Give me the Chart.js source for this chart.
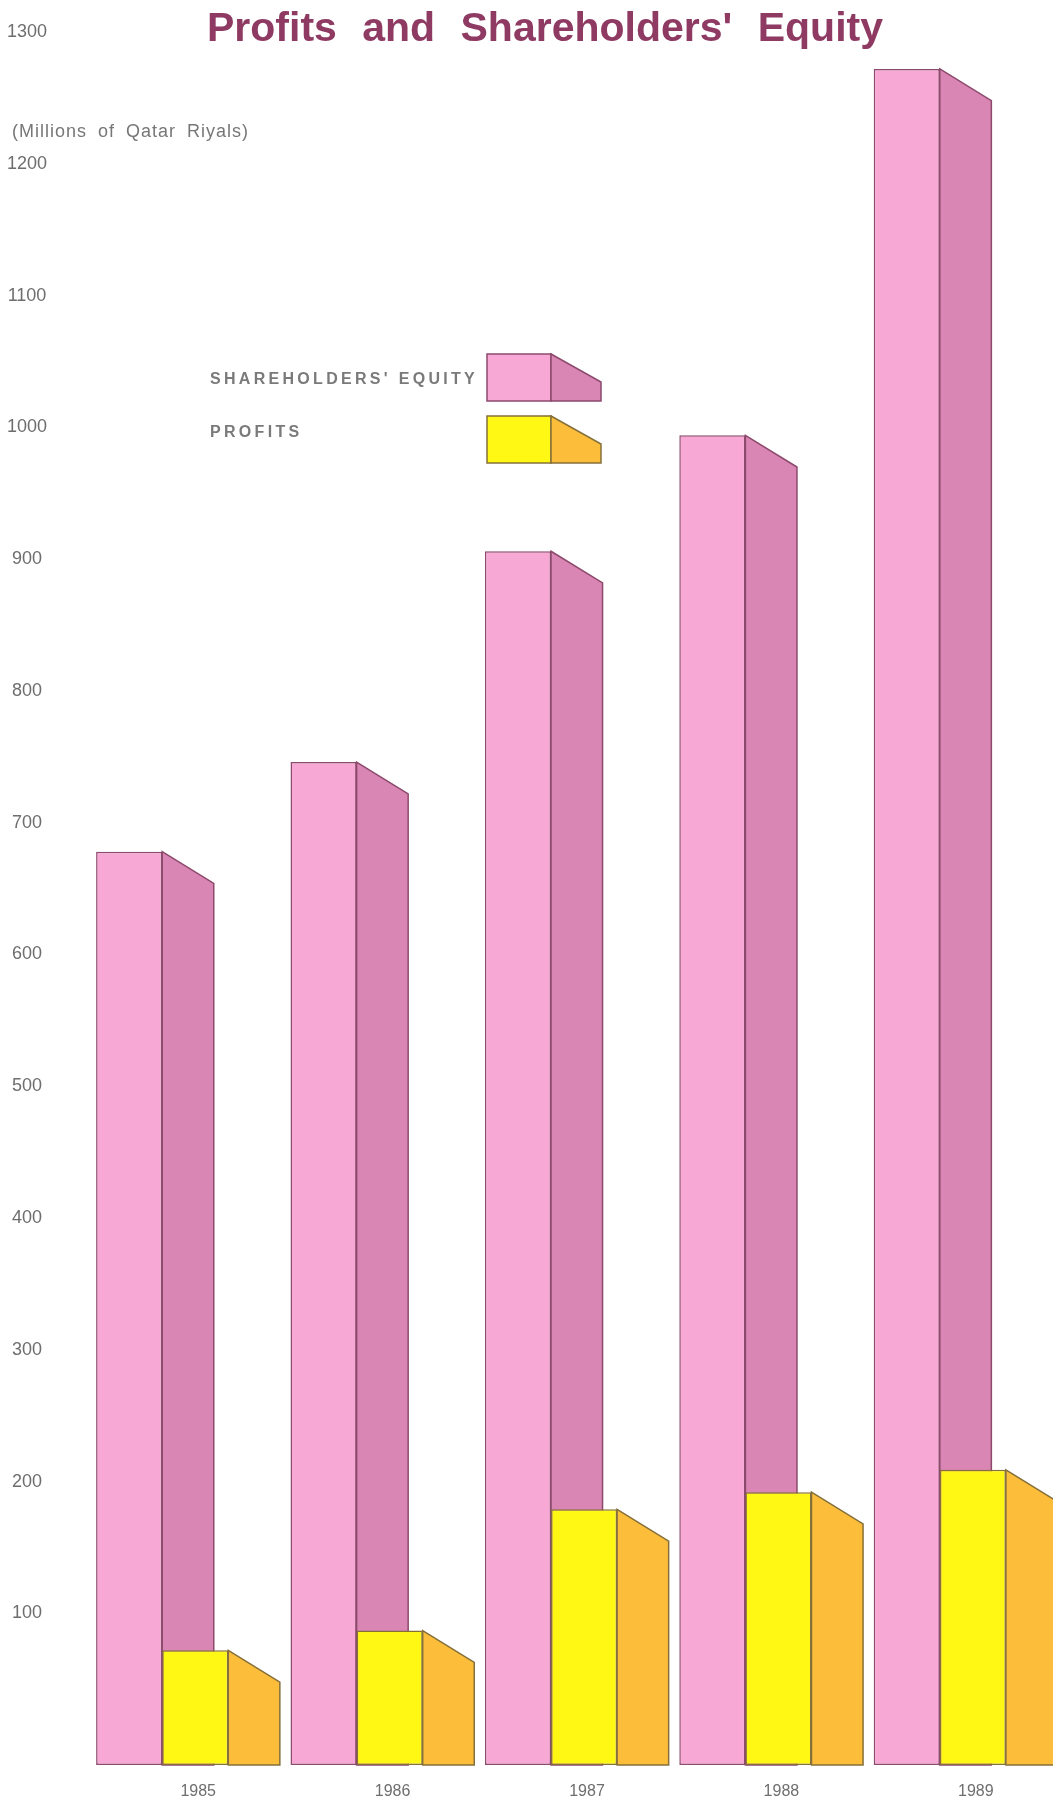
<!DOCTYPE html>
<html>
<head>
<meta charset="UTF-8">
<title>Profits and Shareholders' Equity</title>
<script src="https://cdn.jsdelivr.net/npm/chart.js@4.4.0/dist/chart.umd.min.js"></script>
<style>
  body { margin: 0; background: #fff; }
  #wrap { position: relative; width: 1053px; height: 1803px; }
  #title {
    position: absolute; top: 4px; left: 0; width: 1090px; text-align: center;
    font: bold 41px "Liberation Sans", Arial, sans-serif; color: #8e3a62; word-spacing: 14px;
  }
  #units {
    position: absolute; left: 12px; top: 121px;
    font: 18px "Liberation Sans", Arial, sans-serif; color: #777; word-spacing: 5px; letter-spacing: 1px;
  }
</style>
</head>
<body>
<div id="wrap">
  <canvas id="canvas" width="1053" height="1803"></canvas>
  <div id="title">Profits and Shareholders' Equity</div>
  <div id="units">(Millions of Qatar Riyals)</div>
</div>

<script>
// values (millions of Qatar riyals)
var years = ['1985', '1986', '1987', '1988', '1989'];
var equity = [678, 746, 906, 994, 1272];
var profits = [72, 87, 179, 192, 209];
var seriesNames = ["SHAREHOLDERS' EQUITY", 'PROFITS'];

var Y_MIN = -15;   // bars stand a little below the "0" line in the original
var Y_MAX = 1300;
var Y_STEP = 100;

var tickColor = '#6e6e6e';

function drawSide(ctx, x, top, base, dx, dy, fill, stroke) {
  ctx.save();
  ctx.beginPath();
  ctx.moveTo(x, top);
  ctx.lineTo(x + dx, top + dy);
  ctx.lineTo(x + dx, base);
  ctx.lineTo(x, base);
  ctx.closePath();
  ctx.fillStyle = fill;
  ctx.fill();
  ctx.lineWidth = 1.5;
  ctx.strokeStyle = stroke;
  ctx.stroke();
  ctx.restore();
}

// side faces of the 3D bars (drawn first so the profit fronts cover the equity sides)
// + the legend drawn like the original
var depthPlugin = {
  id: 'depth',
  beforeDatasetsDraw: function(chart) {
    var ctx = chart.ctx;
    chart.data.datasets.forEach(function(ds, i) {
      chart.getDatasetMeta(i).data.forEach(function(bar) {
        var p = bar.getProps(['x', 'y', 'base', 'width'], true);
        drawSide(ctx, p.x + p.width / 2, p.y, p.base, p.width * 0.78, p.width * 0.48, ds.sideColor, ds.borderColor);
      });
    });
  },
  afterDraw: function(chart) {
    var ctx = chart.ctx;
    var boxX = chart.chartArea.left + 422;
    var textX = 210;
    var tops = [354, 416];
    var textY = [380, 433];
    var w = 64, h = 47;
    chart.data.datasets.forEach(function(ds, i) {
      ctx.save();
      ctx.fillStyle = ds.backgroundColor;
      ctx.fillRect(boxX, tops[i], w, h);
      ctx.lineWidth = 1.5;
      ctx.strokeStyle = ds.borderColor;
      ctx.strokeRect(boxX, tops[i], w, h);
      ctx.restore();
      drawSide(ctx, boxX + w, tops[i], tops[i] + h, 50, 28, ds.sideColor, ds.borderColor);

      ctx.save();
      ctx.font = 'bold 16px "Liberation Sans", Arial, sans-serif';
      ctx.letterSpacing = '3.3px';
      ctx.fillStyle = '#7a7a7a';
      ctx.textAlign = 'left';
      ctx.textBaseline = 'middle';
      ctx.fillText(ds.label, textX, textY[i]);
      ctx.restore();
    });
  }
};

var ctx = document.getElementById('canvas').getContext('2d');
new Chart(ctx, {
  type: 'bar',
  data: {
    labels: years,
    datasets: [
      {
        label: seriesNames[0],
        data: equity,
        backgroundColor: '#f7a8d4',
        sideColor: '#da86b4',
        borderColor: '#8c4a6c',
        borderWidth: 1.5,
        borderSkipped: false,
        base: Y_MIN
      },
      {
        label: seriesNames[1],
        data: profits,
        backgroundColor: '#fff714',
        sideColor: '#fcbe3a',
        borderColor: '#85703a',
        borderWidth: 1.5,
        borderSkipped: false,
        base: Y_MIN
      }
    ]
  },
  options: {
    responsive: false,
    animation: false,
    events: [],
    layout: { padding: { top: 32, right: 16, bottom: 0, left: 0 } },
    datasets: { bar: { barPercentage: 1, categoryPercentage: 0.68 } },
    plugins: {
      legend: { display: false },
      tooltip: { enabled: false },
      title: { display: false }
    },
    scales: {
      x: {
        grid: { display: false },
        border: { display: false },
        ticks: {
          color: tickColor,
          font: { family: '"Liberation Sans", Arial, sans-serif', size: 16 },
          labelOffset: 36,
          padding: 9
        },
        afterFit: function(scale) { scale.height = 38; }
      },
      y: {
        min: Y_MIN,
        max: Y_MAX,
        grid: { display: false },
        border: { display: false },
        ticks: {
          stepSize: Y_STEP,
          includeBounds: false,
          color: tickColor,
          crossAlign: 'center',
          padding: 10,
          font: { family: '"Liberation Sans", Arial, sans-serif', size: 18 },
          callback: function(v) { return v > 0 ? v : ''; }
        },
        afterFit: function(scale) { scale.width = 65; }
      }
    }
  },
  plugins: [depthPlugin]
});
</script>
</body>
</html>
